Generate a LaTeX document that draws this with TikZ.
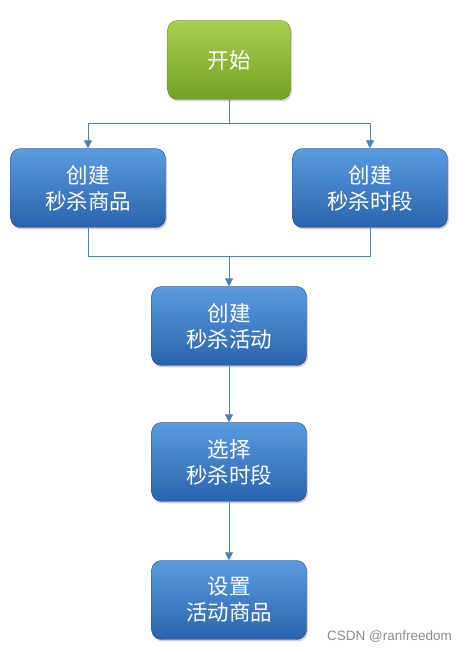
\documentclass[tikz,border=0pt]{standalone}
\usepackage{fontspec}
\setmainfont{Noto Sans CJK SC}
\usetikzlibrary{arrows.meta,shadows}
\definecolor{lineblue}{HTML}{4F81BD}
\definecolor{btop}{HTML}{5A9BE0}
\definecolor{bbot}{HTML}{2A63AD}
\definecolor{gtop}{HTML}{A9D04E}
\definecolor{gbot}{HTML}{74A024}
\tikzset{
  x=1pt,y=1pt,
  boxbase/.style={rounded corners=10pt, minimum width=155pt, minimum height=79pt,
    text=white, font=\fontsize{21.5}{26}\selectfont, align=center, inner sep=0pt,
    drop shadow={shadow xshift=1.5pt, shadow yshift=-2pt, opacity=0.35}},
  bluebox/.style={boxbase, top color=btop, bottom color=bbot, draw=bbot!80!black, line width=0.4pt},
  greenbox/.style={boxbase, minimum width=123pt, top color=gtop, bottom color=gbot, draw=gbot!85!black, line width=0.4pt},
  conn/.style={draw=lineblue, line width=0.9pt},
  arr/.style={conn, -{Triangle[length=8pt,width=8pt]}},
}
\begin{document}
\begin{tikzpicture}
\useasboundingbox (0,0) rectangle (468,652);
\node[greenbox] (start) at (229,592) {开始};
\node[bluebox] (goods) at (88,464) {创建\\秒杀商品};
\node[bluebox] (period) at (370,464) {创建\\秒杀时段};
\node[bluebox] (act) at (229,326) {创建\\秒杀活动};
\node[bluebox] (sel) at (229,190) {选择\\秒杀时段};
\node[bluebox] (set) at (229,52) {设置\\活动商品};
\coordinate (split) at (229,529);
\coordinate (join) at (229,396);
\draw[conn] (start.south) -- (split);
\draw[arr] (split) -| (goods.north);
\draw[arr] (split) -| (period.north);
\draw[conn] (goods.south) |- (join);
\draw[conn] (period.south) |- (join);
\draw[arr] (join) -- (act.north);
\draw[arr] (act.south) -- (sel.north);
\draw[arr] (sel.south) -- (set.north);
\node[anchor=base west, text=black!45, font=\fontsize{13.5}{16}\selectfont\fontspec{Liberation Sans}, inner sep=0pt] (wm) at (327,11) {CSDN @ranfreedom};
\end{tikzpicture}
\end{document}
